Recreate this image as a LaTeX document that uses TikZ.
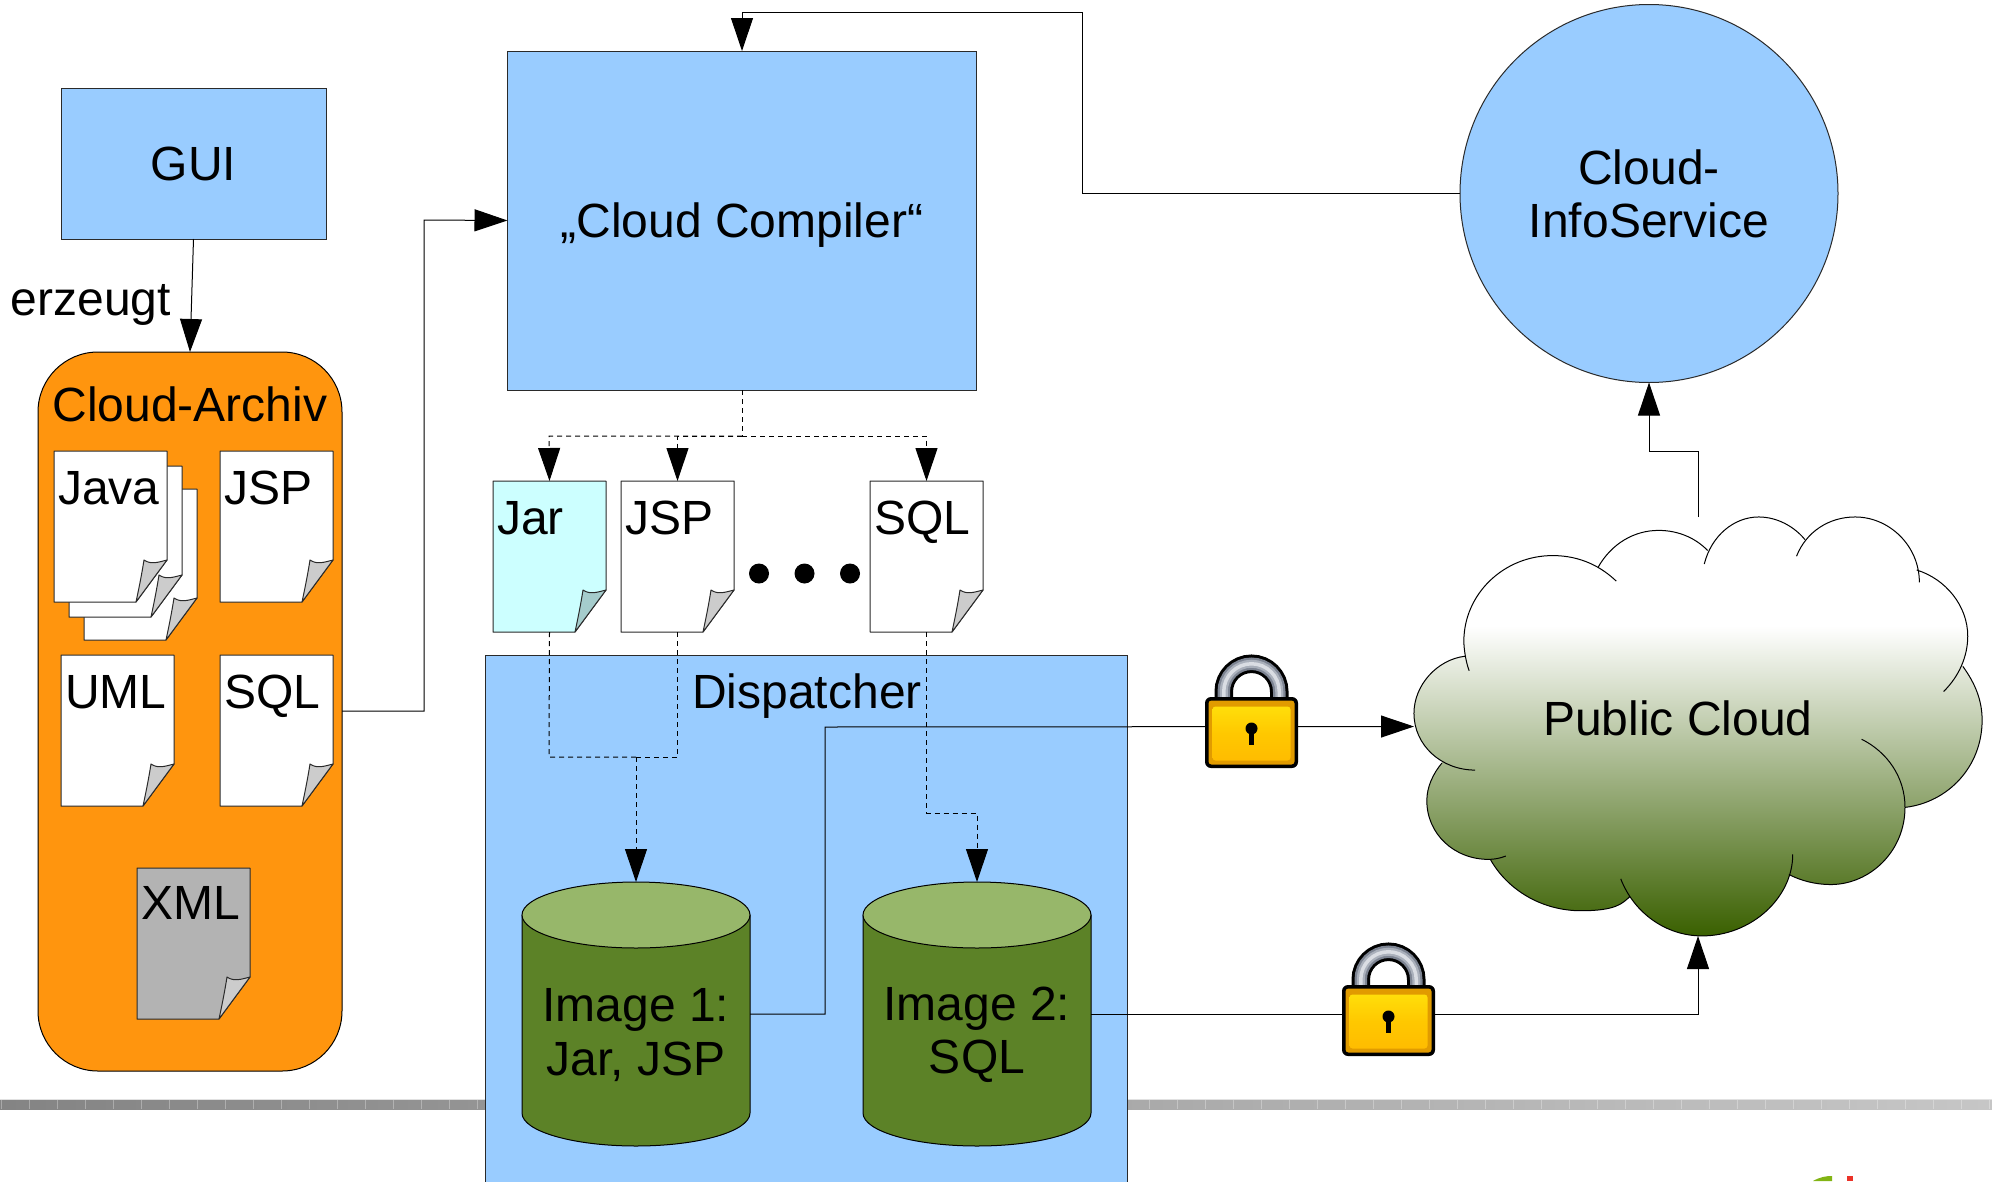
\documentclass[tikz,border=0pt]{standalone}
\usepackage{fontspec}
\setmainfont{Liberation Sans}
\usetikzlibrary{arrows.meta,calc}
\definecolor{boxblue}{HTML}{99CCFF}
\definecolor{archorange}{HTML}{FF950E}
\definecolor{cylbody}{HTML}{5C8227}
\definecolor{cyltop}{HTML}{97B76A}
\definecolor{cloudgreen}{HTML}{3A6000}
\definecolor{jarcyan}{HTML}{CCFFFF}
\definecolor{jarfold}{HTML}{A5CCCC}
\definecolor{foldgray}{HTML}{CCCCCC}
\definecolor{xmlgray}{HTML}{B3B3B3}
\definecolor{edgedark}{HTML}{2A2A2A}
\pgfdeclareverticalshading{cloudsh}{100bp}{color(0bp)=(cloudgreen); color(25bp)=(cloudgreen); color(62bp)=(white); color(100bp)=(white)}
\tikzset{
  x=1pt,y=-1pt,
  every node/.style={font=\fontsize{48}{53.5}\selectfont,inner sep=0pt,outer sep=0pt},
  boxnode/.style={draw=edgedark,line width=1pt,fill=boxblue,rectangle,anchor=north west,align=center},
  ghost/.style={rectangle,anchor=north west},
  wire/.style={draw=black,line width=1pt},
  tip/.style={-{Triangle[length=33pt,width=22pt]}},
  dashwire/.style={draw=black,line width=1pt,dash pattern=on 5pt off 4pt},
  docline/.style={draw=edgedark,line width=1pt,line join=round},
  padlock/.pic={
    \draw[black,line width=18.5pt] (-27.75,-30) -- (-27.75,-41) arc[start angle=180,end angle=360,radius=27.75] -- (27.75,-30);
    \draw[color={rgb,255:red,125;green,132;blue,146},line width=12.5pt] (-27.75,-30) -- (-27.75,-41) arc[start angle=180,end angle=360,radius=27.75] -- (27.75,-30);
    \draw[color={rgb,255:red,170;green,176;blue,187},line width=8pt] (-27.75,-30) -- (-27.75,-41) arc[start angle=180,end angle=360,radius=27.75] -- (27.75,-30);
    \draw[color={rgb,255:red,218;green,221;blue,227},line width=3.5pt] (-27.75,-30) -- (-27.75,-41) arc[start angle=180,end angle=360,radius=27.75] -- (27.75,-30);
    \fill[black,rounded corners=6pt] (-46.5,-35.5) rectangle (46.5,35.5);
    \fill[rounded corners=3pt,color={rgb,255:red,225;green,155;blue,0}] (-43,-32) rectangle (43,32);
    \shade[rounded corners=3pt,top color={rgb,255:red,255;green,222;blue,10},bottom color={rgb,255:red,255;green,188;blue,0},middle color={rgb,255:red,255;green,200;blue,0}] (-39,-26) rectangle (39,28);
    \fill[black] (0,-4) circle[radius=6];
    \fill[black] (-2.5,-4) rectangle (2.5,12);
  }
}
\newcommand{\docnode}[6]{%
  \begin{scope}[shift={(#2,#3)}]
    \node[ghost,minimum width=113pt,minimum height=151pt] (#1) at (0,0) {};
    \draw[docline,fill=#4] (0,0) -- (113,0) -- (113,109) -- (82,151) -- (0,151) -- cycle;
    \draw[docline,fill=#5] (113,109) .. controls (105,111) and (97,114) .. (90,109) .. controls (88,122) and (85,137) .. (82,151) -- cycle;
    \node[anchor=base west] (#1-label) at (4,53) {#6};
  \end{scope}}
\newcommand{\cylnode}[5]{%
  \draw[draw=black,line width=1pt,fill=cylbody] (#2,915) -- (#2,1113) arc[start angle=180,end angle=0,x radius=114,y radius=33] -- (#3,915) -- cycle;
  \draw[draw=black,line width=1pt,fill=cyltop] ($(#2,915)+(114,0)$) ellipse[x radius=114,y radius=33];
  \node[ghost,minimum width=228pt,minimum height=264pt] (#1) at (#2,882) {};
  \node[align=center] (#1-label) at ($(#2,1035)+(114,0)$) {#4\\#5};}
\def\la{(184,513) .. controls (176,490) and (170,450) .. (170,425) .. controls (170,285) and (275,170) .. (405,170) .. controls (480,170) and (535,205) .. (573,246)}
\def\lb{(525,205) .. controls (560,135) and (620,95) .. (685,95) .. controls (740,95) and (785,120) .. (815,155)}
\def\lc{(806,195) .. controls (825,110) and (885,55) .. (950,55) .. controls (1000,55) and (1045,85) .. (1072,122)}
\def\ld{(1050,172) .. controls (1075,100) and (1135,55) .. (1205,55) .. controls (1295,55) and (1375,140) .. (1375,250)}
\def\le{(1368,213) .. controls (1445,240) and (1503,320) .. (1503,410) .. controls (1503,470) and (1480,530) .. (1439,575)}
\def\lf{(1490,500) .. controls (1522,550) and (1541,600) .. (1541,660) .. controls (1541,800) and (1450,905) .. (1338,920)}
\def\lg{(1222,717) .. controls (1290,755) and (1337,830) .. (1337,920) .. controls (1337,1050) and (1245,1150) .. (1140,1150) .. controls (1100,1150) and (1060,1138) .. (1030,1120)}
\def\lh{(1040,1060) .. controls (1040,1190) and (930,1303) .. (800,1303) .. controls (705,1303) and (620,1235) .. (585,1133)}
\def\li{(610,1185) .. controls (590,1205) and (575,1228) .. (480,1228) .. controls (375,1228) and (285,1165) .. (240,1075)}
\def\lj{(281,1065) .. controls (265,1072) and (250,1075) .. (235,1075) .. controls (145,1075) and (72,1000) .. (72,900) .. controls (72,860) and (88,820) .. (112,788)}
\def\lk{(200,809) .. controls (110,809) and (38,735) .. (38,640) .. controls (38,555) and (100,480) .. (172,470)}
\begin{document}
\begin{tikzpicture}
\clip (0,0) rectangle (1992,1181);
\fill[white] (0,0) rectangle (1992,1181);

% bottom bar
\shade[left color={rgb,255:red,132;green,132;blue,132},right color={rgb,255:red,198;green,198;blue,198}] (0,1100) rectangle (1992,1109);
\draw[color={rgb,255:red,225;green,225;blue,225},line width=1pt] (0,1099.5) -- (1992,1099.5);
\foreach \k in {0,...,71} \draw[white,opacity=.3,line width=.8pt] ({1+28*\k},1100) -- ({1+28*\k},1109);

% logo remnant
\fill[color={rgb,255:red,130;green,180;blue,20}] (1813,1181) .. controls (1820,1177) and (1826,1176) .. (1832,1176) -- (1832,1181) -- cycle;
\fill[color={rgb,255:red,235;green,50;blue,40}] (1847,1176) rectangle (1853,1181);

% boxes
\node[boxnode,minimum width=265pt,minimum height=151pt] (gui) at (61,88) {GUI};
\node[boxnode,minimum width=469pt,minimum height=339pt] (compiler) at (507.5,51) {};
\node (compilerlabel) at (742,225) {„Cloud Compiler“};
\node[draw=edgedark,line width=1pt,fill=boxblue,circle,minimum size=378pt,align=center] (info) at (1649,193.5) {};
\node[align=center] (infolabel) at (1649,194) {Cloud-\\InfoService};
\node[boxnode,minimum width=642pt,minimum height=560pt] (dispatcher) at (485,655) {};
\node (dispatcherlabel) at (807,696) {Dispatcher};
\node[anchor=north west,draw=black,line width=1pt,fill=archorange,rectangle,rounded corners=60pt,minimum width=304pt,minimum height=719pt] (archive) at (38,352) {};
\node (archivelabel) at (190,404) {Cloud-Archiv};
\node (erzeugt) at (91,305) {erzeugt};

% documents in the archive
\docnode{javac}{84}{489}{white}{foldgray}{}
\docnode{javab}{69}{466}{white}{foldgray}{}
\docnode{java}{54}{451}{white}{foldgray}{Java}
\docnode{jspa}{220}{451}{white}{foldgray}{JSP}
\docnode{uml}{61}{655}{white}{foldgray}{UML}
\docnode{sqla}{220}{655}{white}{foldgray}{SQL}
\docnode{xml}{137}{868}{xmlgray}{foldgray}{\raisebox{2pt}{XML}}

% documents out of the compiler
\docnode{jar}{493}{481}{jarcyan}{jarfold}{Jar}
\docnode{jspb}{621}{481}{white}{foldgray}{JSP}
\docnode{sqlb}{870}{481}{white}{foldgray}{SQL}
\fill[black] (759,573.5) circle[radius=10];
\fill[black] (804.5,573.5) circle[radius=10];
\fill[black] (850,573.5) circle[radius=10];

% images
\cylnode{imga}{522}{750}{Image 1:}{Jar, JSP}
\cylnode{imgb}{863}{1091}{Image 2:}{SQL}

% cloud
\node[ghost,minimum width=568pt,minimum height=419pt] (cloud) at (1414,517) {};
\begin{scope}[shift={(1399.6,498.5)},xscale=.378,yscale=.3357]
\shade[shading=cloudsh] \la -- cycle \lb -- cycle \lc -- cycle \ld -- cycle \le -- cycle \lf -- cycle \lg -- cycle \lh -- cycle \li -- cycle \lj -- cycle \lk -- cycle
  (172,470) -- (525,205) -- (815,155) -- (1072,122) -- (1368,213) -- (1490,500) -- (1338,920) -- (1030,1120) -- (610,1185) -- (240,1075) -- (112,788) -- cycle;
\draw[black,line width=1pt] \la \lb \lc \ld \le \lf \lg \lh \li \lj \lk;
\end{scope}
\node (cloudlabel) at (1678,718) {Public Cloud};

% connector helpers
\coordinate (archout) at (342,711);
\coordinate (infout) at (1460,193.5);
\coordinate (split) at (742,436);
\coordinate (merge) at (636,757);

% solid connectors
\draw[wire,tip] (gui.south) -- (archive.north);
\draw[wire,tip] (archout) -- (424,711) -- (424,220) -- (compiler.west);
\draw[wire,tip] (info.west) -- (1082,193.5) -- (1082,12.5) -- (742,12.5) -- (compiler.north);
\draw[wire,tip] (cloud.north) -- (1698,451) -- (1649,451) -- (info.south);
\draw[wire,tip] (imga.east) -- (825,1014) -- (825,727) -- (cloud.west);
\draw[wire,tip] (imgb.east) -- (1698,1014) -- (cloud.south);

% dashed connectors
\draw[dashwire] (compiler.south) -- (split);
\draw[dashwire,tip] (split) -- (549,436) -- (jar.north);
\draw[dashwire,tip] (split) -- (677.5,436) -- (jspb.north);
\draw[dashwire,tip] (split) -- (926.5,436) -- (sqlb.north);
\draw[dashwire] (jar.south) -- (549,757) -- (merge);
\draw[dashwire] (jspb.south) -- (677.5,757) -- (merge);
\draw[dashwire,tip] (merge) -- (imga.north);
\draw[dashwire,tip] (sqlb.south) -- (926.5,813) -- (977,813) -- (imgb.north);

% locks
\pic (locka) at (1251.5,732.5) {padlock};
\pic (lockb) at (1388.5,1020.5) {padlock};
\end{tikzpicture}
\end{document}
